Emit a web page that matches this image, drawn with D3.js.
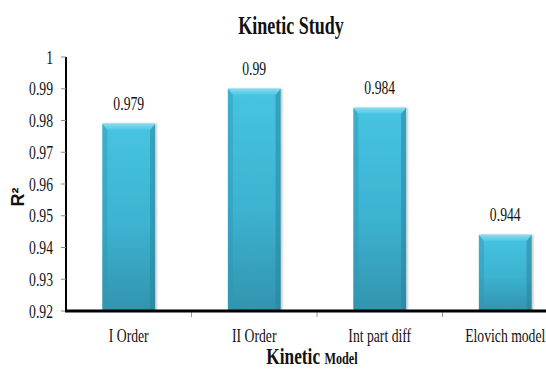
<!DOCTYPE html>
<html>
<head>
<meta charset="utf-8">
<script src="https://cdn.jsdelivr.net/npm/d3@7"></script>
<style>
  html, body { margin: 0; padding: 0; background: #fff; }
  svg { display: block; }
  text.serif { font-family: "Liberation Serif", "Times New Roman", Times, serif; }
</style>
</head>
<body>
<svg id="chart" width="546" height="371"></svg>
<script>
// Kinetic model fit quality (R²)
const categories = ["I Order", "II Order", "Int part diff", "Elovich model"];
const values = [0.979, 0.99, 0.984, 0.944];
const valueLabels = ["0.979", "0.99", "0.984", "0.944"];
const yTicks = [0.92, 0.93, 0.94, 0.95, 0.96, 0.97, 0.98, 0.99, 1];
const yTickLabels = ["0.92", "0.93", "0.94", "0.95", "0.96", "0.97", "0.98", "0.99", "1"];

const svg = d3.select("#chart");
const sx = 0.72; // narrow serif lettering

const plot = { left: 66, right: 568, top: 57, bottom: 311 };

const x = d3.scaleBand()
  .domain(categories)
  .range([plot.left, plot.right])
  .paddingInner(0.58)
  .paddingOuter(0.29);

const y = d3.scaleLinear()
  .domain([0.92, 1])
  .range([plot.bottom, plot.top]);

// gradients
const defs = svg.append("defs");
const bodyGrad = defs.append("linearGradient").attr("id", "barBody")
  .attr("x1", 0).attr("y1", 0).attr("x2", 0).attr("y2", 1);
bodyGrad.append("stop").attr("offset", "0%").attr("stop-color", "#46C4E1");
bodyGrad.append("stop").attr("offset", "55%").attr("stop-color", "#3CB2D1");
bodyGrad.append("stop").attr("offset", "100%").attr("stop-color", "#3294AE");

const topGrad = defs.append("linearGradient").attr("id", "barTop")
  .attr("x1", 0).attr("y1", 0).attr("x2", 0).attr("y2", 1);
topGrad.append("stop").attr("offset", "0%").attr("stop-color", "#86DBEE");
topGrad.append("stop").attr("offset", "100%").attr("stop-color", "#4FC8E4");

const shadow = defs.append("filter").attr("id", "shadow")
  .attr("x", "-20%").attr("y", "-10%").attr("width", "140%").attr("height", "120%");
shadow.append("feDropShadow").attr("dx", 1.5).attr("dy", 0).attr("stdDeviation", 1.2)
  .attr("flood-color", "#000").attr("flood-opacity", 0.25);

// bars with bevelled edges
const bev = 5, bevTop = 6;
const bars = svg.append("g").selectAll("g.bar")
  .data(categories.map((c, i) => ({ c, v: values[i], label: valueLabels[i] })))
  .join("g").attr("class", "bar");

bars.append("rect")
  .attr("x", d => x(d.c))
  .attr("y", d => y(d.v))
  .attr("width", x.bandwidth())
  .attr("height", d => y(0.92) - y(d.v))
  .attr("fill", "url(#barBody)")
  .attr("filter", "url(#shadow)");

// left edge
bars.append("path")
  .attr("d", d => {
    const x0 = x(d.c), y0 = y(d.v), y1 = y(0.92);
    return `M${x0},${y0}L${x0 + bev},${y0 + bevTop}L${x0 + bev},${y1 - 2}L${x0},${y1}Z`;
  })
  .attr("fill", "#2F97B3").attr("opacity", 0.45);

// right edge
bars.append("path")
  .attr("d", d => {
    const x1 = x(d.c) + x.bandwidth(), y0 = y(d.v), y1 = y(0.92);
    return `M${x1},${y0}L${x1 - bev},${y0 + bevTop}L${x1 - bev},${y1 - 2}L${x1},${y1}Z`;
  })
  .attr("fill", "#277F97").attr("opacity", 0.5);

// top bevel
bars.append("path")
  .attr("d", d => {
    const x0 = x(d.c), x1 = x0 + x.bandwidth(), y0 = y(d.v);
    return `M${x0},${y0}L${x1},${y0}L${x1 - bev},${y0 + bevTop}L${x0 + bev},${y0 + bevTop}Z`;
  })
  .attr("fill", "url(#barTop)");

// value labels
bars.append("text")
  .attr("class", "serif")
  .attr("transform", d => `translate(${x(d.c) + x.bandwidth() / 2},${y(d.v) - 14}) scale(${sx},1)`)
  .attr("text-anchor", "middle")
  .attr("font-size", 19)
  .attr("fill", "#111")
  .text(d => d.label);

// y axis
const yAxis = svg.append("g");
yAxis.append("line")
  .attr("x1", plot.left).attr("x2", plot.left)
  .attr("y1", y(1)).attr("y2", y(0.92))
  .attr("stroke", "#000").attr("stroke-width", 2);
yAxis.selectAll("line.tick").data(yTicks).join("line")
  .attr("class", "tick")
  .attr("x1", plot.left - 5).attr("x2", plot.left)
  .attr("y1", d => y(d)).attr("y2", d => y(d))
  .attr("stroke", "#888").attr("stroke-width", 1);
yAxis.selectAll("text").data(yTicks).join("text")
  .attr("class", "serif")
  .attr("transform", d => `translate(${plot.left - 13},${y(d)}) scale(${sx},1)`)
  .attr("dy", "0.35em")
  .attr("text-anchor", "end")
  .attr("font-size", 19)
  .attr("fill", "#111")
  .text((d, i) => yTickLabels[i]);

// x axis
const step = x.step();
const bounds = categories.map(c => x(c) - x.paddingInner() * step / 2);
const xAxis = svg.append("g");
xAxis.selectAll("line.tick").data(bounds.slice(1)).join("line")
  .attr("class", "tick")
  .attr("x1", d => d).attr("x2", d => d)
  .attr("y1", plot.bottom).attr("y2", plot.bottom + 6)
  .attr("stroke", "#999").attr("stroke-width", 1);
xAxis.append("line")
  .attr("x1", plot.left - 1).attr("x2", plot.right)
  .attr("y1", plot.bottom).attr("y2", plot.bottom)
  .attr("stroke", "#000").attr("stroke-width", 3);
xAxis.selectAll("text").data(categories).join("text")
  .attr("class", "serif")
  .attr("transform", d => `translate(${x(d) + x.bandwidth() / 2},${plot.bottom + 31}) scale(${sx},1)`)
  .attr("text-anchor", "middle")
  .attr("font-size", 19)
  .attr("fill", "#111")
  .text(d => d);

// title
svg.append("text")
  .attr("class", "serif")
  .attr("transform", `translate(291,34) scale(${sx},1)`)
  .attr("text-anchor", "middle")
  .attr("font-weight", "bold")
  .attr("font-size", 25)
  .attr("fill", "#111")
  .text("Kinetic Study");

// x axis title
const xt = svg.append("text")
  .attr("class", "serif")
  .attr("transform", `translate(312,364) scale(${sx},1)`)
  .attr("text-anchor", "middle")
  .attr("font-weight", "bold")
  .attr("fill", "#111");
xt.append("tspan").attr("font-size", 24).text("Kinetic ");
xt.append("tspan").attr("font-size", 17).text("Model");

// y axis title
svg.append("text")
  .attr("transform", "translate(24,197) rotate(-90)")
  .attr("text-anchor", "middle")
  .attr("font-family", "'Liberation Sans', Arial, sans-serif")
  .attr("font-weight", "bold")
  .attr("font-size", 18)
  .attr("fill", "#111")
  .text("R²");
</script>
</body>
</html>
